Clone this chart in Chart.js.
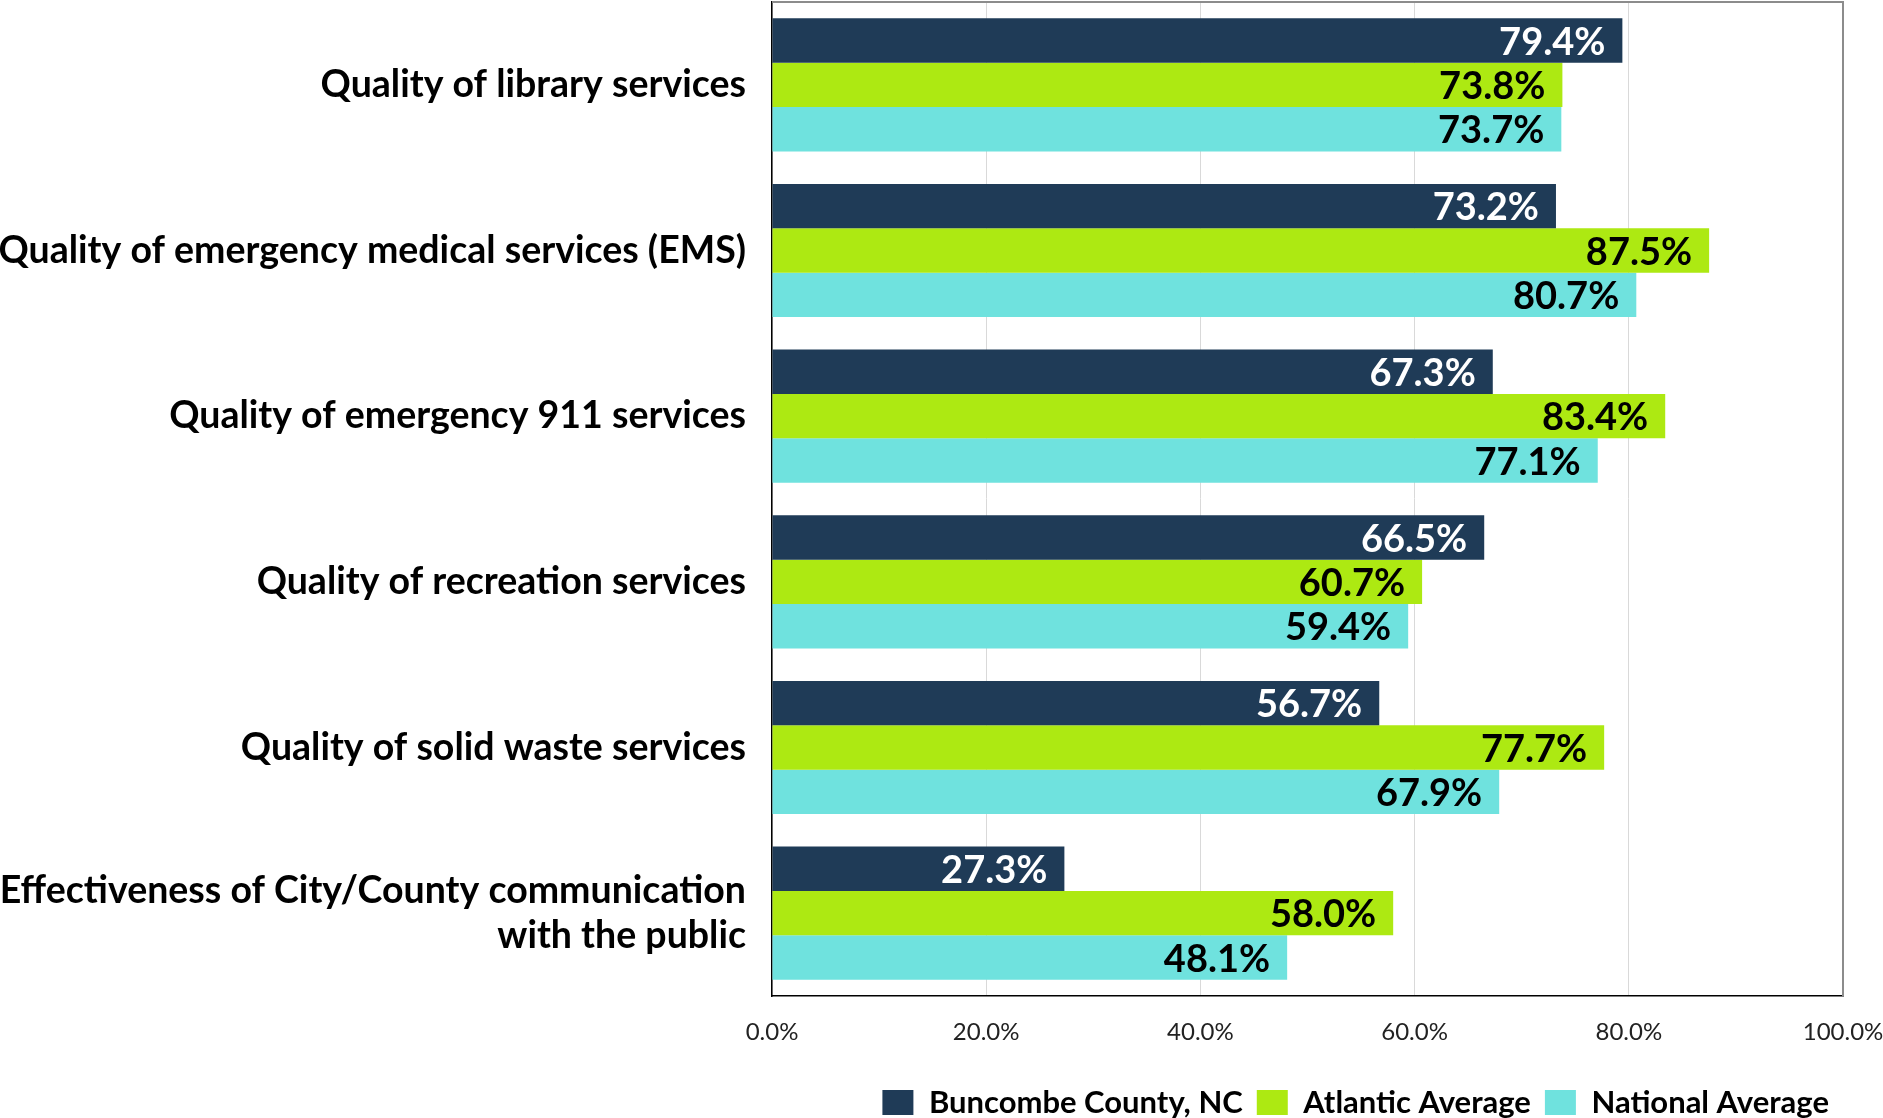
<!DOCTYPE html>
<html lang="en">
<head>
    <meta charset="UTF-8">
    <title>Service Ratings</title>
    <style>
        html, body {
            margin: 0;
            padding: 0;
            background-color: #fff;
        }
        .chart-container {
            width: 1883px;
            height: 1118px;
        }
    </style>
</head>
<body>
    <div class="chart-container">
        <canvas id="chart"></canvas>
    </div>

    <script src="https://cdn.jsdelivr.net/npm/chart.js"></script>

    <script>
      const categories = [
          'Quality of library services',
          'Quality of emergency medical services (EMS)',
          'Quality of emergency 911 services',
          'Quality of recreation services',
          'Quality of solid waste services',
          ['Effectiveness of City/County communication', 'with the public']
      ];
      const seriesNames = ['Buncombe County, NC', 'Atlantic Average', 'National Average'];
      const buncombe = [79.4, 73.2, 67.3, 66.5, 56.7, 27.3];
      const atlantic = [73.8, 87.5, 83.4, 60.7, 77.7, 58.0];
      const national = [73.7, 80.7, 77.1, 59.4, 67.9, 48.1];
      const xTicks = [0, 20, 40, 60, 80, 100];

      const colors = ['#1F3B57', '#ADE912', '#6FE2DE'];
      const labelColors = ['#ffffff', '#000000', '#000000'];
      const font = 'Lato, "Open Sans", sans-serif';

      // value labels drawn inside the end of each bar
      const barLabels = {
          id: 'barLabels',
          afterDatasetsDraw(chart) {
              const ctx = chart.ctx;
              ctx.save();
              ctx.font = 'bold 38px ' + font;
              ctx.textAlign = 'right';
              ctx.textBaseline = 'middle';
              chart.data.datasets.forEach((ds, i) => {
                  chart.getDatasetMeta(i).data.forEach((bar, j) => {
                      ctx.fillStyle = labelColors[i];
                      ctx.fillText(ds.data[j].toFixed(1) + '%', bar.x - 17, bar.y + 2);
                  });
              });
              ctx.restore();
          }
      };

      // gray top and right edges of the plot box
      const plotBox = {
          id: 'plotBox',
          afterDraw(chart) {
              const { ctx, chartArea: a } = chart;
              ctx.save();
              ctx.strokeStyle = '#8c8c8c';
              ctx.lineWidth = 2;
              ctx.beginPath();
              ctx.moveTo(a.left, a.top);
              ctx.lineTo(a.right, a.top);
              ctx.lineTo(a.right, a.bottom);
              ctx.stroke();
              ctx.restore();
          }
      };

      const seriesData = [buncombe, atlantic, national];

      new Chart(document.getElementById('chart').getContext('2d'), {
          type: 'bar',
          data: {
              labels: categories,
              datasets: seriesNames.map((name, i) => ({
                  label: name,
                  data: seriesData[i],
                  backgroundColor: colors[i],
                  borderWidth: 0,
                  categoryPercentage: 0.804,
                  barPercentage: 1.0
              }))
          },
          options: {
              indexAxis: 'y',
              responsive: true,
              maintainAspectRatio: false,
              animation: false,
              layout: {
                  padding: { top: 2, right: 40, left: 0, bottom: -10 }
              },
              plugins: {
                  tooltip: { enabled: false },
                  legend: {
                      position: 'bottom',
                      align: 'end',
                      labels: {
                          boxWidth: 31,
                          boxHeight: 25,
                          padding: 14,
                          color: '#000',
                          font: { family: font, size: 31, weight: 'bold' }
                      }
                  }
              },
              scales: {
                  x: {
                      min: 0,
                      max: 100,
                      afterBuildTicks: (s) => { s.ticks = xTicks.map(v => ({ value: v })); },
                      afterFit: (s) => {
                          s.height = 77;
                          s.paddingLeft = 0;
                          s.paddingRight = 0;
                      },
                      ticks: {
                          padding: 22,
                          color: '#222',
                          font: { family: font, size: 24 },
                          callback: (v) => v.toFixed(1) + '%'
                      },
                      grid: { color: '#d9d9d9', lineWidth: 1, drawTicks: false },
                      border: { color: '#000', width: 1.5 }
                  },
                  y: {
                      afterFit: (s) => {
                          s.width = 772;
                          s.paddingTop = 0;
                          s.paddingBottom = 0;
                      },
                      ticks: {
                          padding: 26,
                          color: '#000',
                          font: { family: font, size: 37.5, weight: 'bold' }
                      },
                      grid: { display: false, drawTicks: false },
                      border: { color: '#000', width: 1.5 }
                  }
              }
          },
          plugins: [barLabels, plotBox]
      });
    </script>
</body>
</html>
